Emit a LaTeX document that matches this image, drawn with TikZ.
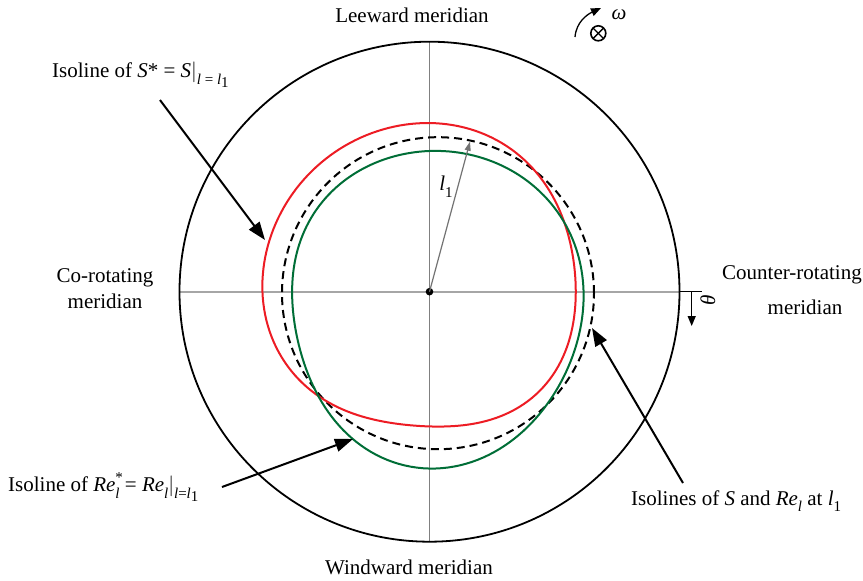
\documentclass[tikz,border=0pt]{standalone}
\usepackage{fontspec}
\setmainfont{Liberation Serif}
\usetikzlibrary{arrows.meta,calc}
\newcommand{\lbl}{\fontsize{21}{26}\selectfont}
\newcommand{\sbs}[1]{\raisebox{-0.32em}{\fontsize{15}{15}\selectfont #1}}
\newcommand{\sps}[1]{\raisebox{0.45em}{\fontsize{15}{15}\selectfont #1}}
\begin{document}
\begin{tikzpicture}[x=1pt,y=-1pt,
  declare function={
    rred(\t)=155.4-7.34*cos(\t)+13.47*sin(\t)+2.48*cos(2*\t)-1.5*sin(2*\t)-2.85*cos(3*\t)-3.5*sin(3*\t)-1.22*cos(4*\t);
    rgrn(\t)=151.8+7.57*cos(\t)-14.09*sin(\t)-6.52*cos(2*\t)-0.26*sin(2*\t)+0.97*cos(3*\t)+3.98*sin(3*\t)+0.45*cos(4*\t)-0.32*sin(4*\t);
  },
  txt/.style={font=\lbl, inner sep=0pt, align=center},
  bigarrow/.style={line width=2pt, -{Triangle[length=18pt,width=13pt]}},
  smallarrow/.style={line width=1.3pt, -{Triangle[length=10pt,width=8pt]}},
  axisH/.style={draw=black!35, line width=1.6pt},
  axisV/.style={draw=black!50, line width=1.1pt},
  redc/.style={draw={rgb,255:red,237;green,28;blue,36}, line width=2pt, line join=round},
  greenc/.style={draw={rgb,255:red,0;green,110;blue,55}, line width=2pt, line join=round},
  dashc/.style={draw=black, line width=2pt, dash pattern=on 8pt off 5pt}]
\useasboundingbox (0,0) rectangle (863,581);
\fill[white] (0,0) rectangle (863,581);

\coordinate (C) at (429.5,291.7);
% axes
\draw[axisH] (180,291.7) -- (680,291.7);
\draw[axisV] (429.5,41.7) -- (429.5,541.7);
% outer circle
\draw[line width=1.8pt] (C) circle[radius=250pt];

% dashed isoline l = l1
\draw[dashc] (438,293.2) circle[radius=156pt];

% red curve
\draw[redc] plot[domain=0:358, samples=180, variable=\t]
  ({429.3+rred(\t)*cos(\t)}, {291.7-rred(\t)*sin(\t)}) -- cycle;

% green curve
\draw[greenc] plot[domain=0:358, samples=180, variable=\t]
  ({429.3+rgrn(\t)*cos(\t)}, {291.7-rgrn(\t)*sin(\t)}) -- cycle;

% center dot and l1
\fill (C) circle[radius=3.8pt];
\coordinate (L1tip) at (470,141.7);
\draw[draw=black!55, line width=1.2pt, -{Triangle[length=9pt,width=6pt]}] (C) -- (L1tip);
\node[txt] (l1) at (446,187) {\textit{l}\sbs{1}};

% labels
\node[txt] (lee) at (412,15) {Leeward meridian};
\node[txt] (wind) at (409,567) {Windward meridian};
\node[txt] (corot) at (105,289) {Co-rotating\\meridian};
\node[txt] (cntr1) at (792,275) {Counter-rotating};
\node[txt] (cntr2) at (805,307) {meridian};
\node[txt, anchor=west] (isoS) at (52,75) {Isoline of \textit{S}* = \textit{S}$|$\sbs{\textit{l} = \textit{l}\raisebox{-0.2em}{\fontsize{15}{15}\selectfont 1}}};
\node[txt, anchor=west] (isoRe) at (8,487) {Isoline of \textit{Re}\rlap{\sps{*}}\sbs{\textit{l}} = \textit{Re}\sbs{\textit{l}}$|$\sbs{\textit{l}=\textit{l}\raisebox{-0.2em}{\fontsize{15}{15}\selectfont 1}}};
\node[txt, anchor=west] (isoBoth) at (631,501) {Isolines of \textit{S} and \textit{Re}\sbs{\textit{l}} at \textit{l}\sbs{1}};

% pointer arrows
\coordinate (a1s) at (160,100);
\coordinate (a1t) at (265,240);
\draw[bigarrow] (a1s) -- (a1t);
\coordinate (a2s) at (222,487);
\coordinate (a2t) at (353,439);
\draw[bigarrow] (a2s) -- (a2t);
\coordinate (a3s) at (683,483);
\coordinate (a3t) at (592,328);
\draw[bigarrow] (a3s) -- (a3t);

% theta
\coordinate (th0) at (680,291.7);
\coordinate (th1) at (702,291.7);
\coordinate (thm) at (691.7,291.7);
\coordinate (th2) at (691.7,326);
\draw[line width=1.3pt] (th0) -- (th1);
\draw[smallarrow] (thm) -- (th2);
\node[txt, rotate=90] (theta) at (708,300) {\textit{θ}};

% omega
\coordinate (om) at (598.3,33.3);
\draw[line width=1.6pt] (om) circle[radius=7.5pt];
\draw[line width=1.4pt] ($(om)+(-5.3,-5.3)$) -- ($(om)+(5.3,5.3)$);
\draw[line width=1.4pt] ($(om)+(-5.3,5.3)$) -- ($(om)+(5.3,-5.3)$);
\coordinate (w0) at (575,37);
\coordinate (w1) at (601,8);
\draw[smallarrow] (w0) to[out=85,in=205] (w1);
\node[txt] (omega) at (619,15) {\textit{ω}};
\end{tikzpicture}
\end{document}
